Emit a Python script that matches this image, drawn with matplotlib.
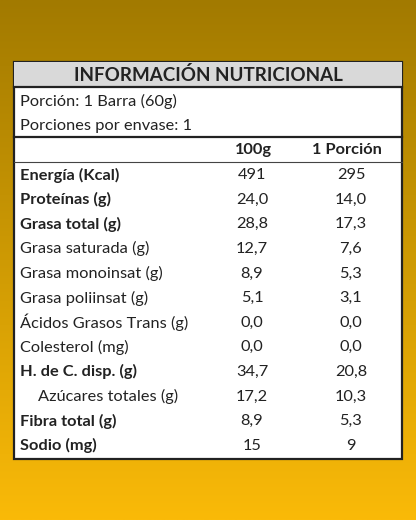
import numpy as np
import matplotlib
matplotlib.use("Agg")
import matplotlib.pyplot as plt

plt.rcParams['font.family'] = ['Lato', 'DejaVu Sans']

title = "INFORMACIÓN NUTRICIONAL"
portion_lines = ["Porción: 1 Barra (60g)", "Porciones por envase: 1"]
col_heads = ["100g", "1 Porción"]
nutrients = ["Energía (Kcal)", "Proteínas (g)", "Grasa total (g)", "Grasa saturada (g)",
             "Grasa monoinsat (g)", "Grasa poliinsat (g)", "Ácidos Grasos Trans (g)",
             "Colesterol (mg)", "H. de C. disp. (g)", "Azúcares totales (g)",
             "Fibra total (g)", "Sodio (mg)"]
per100 = ["491", "24,0", "28,8", "12,7", "8,9", "5,1", "0,0", "0,0", "34,7", "17,2", "8,9", "15"]
perportion = ["295", "14,0", "17,3", "7,6", "5,3", "3,1", "0,0", "0,0", "20,8", "10,3", "5,3", "9"]
bold = [True, True, True, False, False, False, False, False, True, False, True, True]
indent = [False] * 9 + [True, False, False]

fig = plt.figure(figsize=(4.16, 5.2), dpi=100)
ax = fig.add_axes([0, 0, 1, 1])
ax.set_xlim(0, 416)
ax.set_ylim(520, 0)
ax.axis('off')

# background gradient
top = np.array([162, 122, 0]) / 255
bot = np.array([250, 186, 8]) / 255
t = np.linspace(0, 1, 256)[:, None]
grad = (top * (1 - t) + bot * t)[:, None, :]
ax.imshow(grad, extent=[0, 416, 520, 0], aspect='auto', zorder=0)

x0, x1, y0, y1 = 14, 402, 62, 459
ax.add_patch(plt.Rectangle((x0, y0), x1 - x0, y1 - y0, fc='white', ec='#222222', lw=1.6, zorder=1))
ax.add_patch(plt.Rectangle((x0, y0), x1 - x0, 25, fc='#d9d9d9', ec='none', zorder=1.5))
ax.plot([x0, x1], [87, 87], color='#222222', lw=1.6, zorder=2)
ax.plot([x0, x1], [137, 137], color='#222222', lw=1.6, zorder=2)
ax.plot([x0, x1], [162, 162], color='#444444', lw=0.8, zorder=2)

fs = 11.8
ax.text(208, 75, title, ha='center', va='center', fontsize=13.5, fontweight='bold', color='#222222', zorder=3)
for i, s in enumerate(portion_lines):
    ax.text(20, 101 + 24.6 * i, s, ha='left', va='center', fontsize=fs, color='#222222', zorder=3)
ax.text(253, 150, col_heads[0], ha='center', va='center', fontsize=fs, fontweight='bold', color='#222222', zorder=3)
ax.text(347, 150, col_heads[1], ha='center', va='center', fontsize=fs, fontweight='bold', color='#222222', zorder=3)
for i, name in enumerate(nutrients):
    y = 175 + 24.6 * i
    w = 'bold' if bold[i] else 'normal'
    ax.text(38 if indent[i] else 20, y, name, ha='left', va='center', fontsize=fs, fontweight=w, color='#222222', zorder=3)
    ax.text(252, y, per100[i], ha='center', va='center', fontsize=fs, color='#222222', zorder=3)
    ax.text(351, y, perportion[i], ha='center', va='center', fontsize=fs, color='#222222', zorder=3)

fig.savefig("out.png", dpi=100)
